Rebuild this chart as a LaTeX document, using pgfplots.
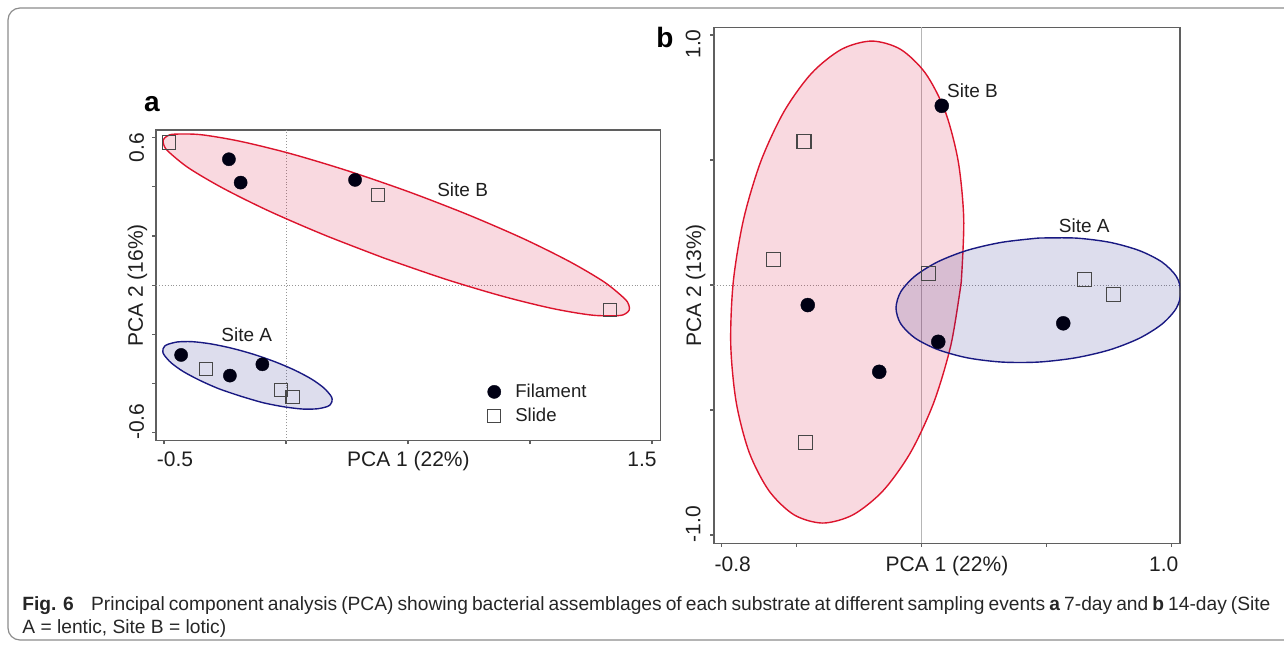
\documentclass[border=0pt]{standalone}
\usepackage{fontspec}
\setmainfont{Liberation Sans}
\usepackage{pgfplots}
\pgfplotsset{compat=1.18}

\definecolor{siteBline}{RGB}{220,20,45}
\definecolor{siteBfill}{RGB}{220,20,60}
\definecolor{siteAline}{RGB}{25,25,130}
\definecolor{siteAfill}{RGB}{20,20,130}
\definecolor{axisgray}{RGB}{95,95,95}
\definecolor{zerogray}{RGB}{150,150,150}
\definecolor{framegray}{RGB}{140,140,140}

\tikzset{sitelabel/.style={font=\fontsize{9.5}{11}\selectfont, text=black!88, inner sep=0pt}}

\pgfplotsset{
  pcabox/.style={
    scale only axis,
    anchor=south west,
    axis line style={axisgray, line width=0.75pt},
    tick style={axisgray, line width=0.6pt},
    tick align=outside,
    tick pos=left,
    major tick length=1.8pt,
    every tick label/.append style={inner sep=0pt, font=\fontsize{10.5}{12}\selectfont, text=black!88},
    yticklabel style={rotate=90, anchor=south},
    every axis x label/.style={anchor=base, inner sep=0pt, font=\fontsize{10.5}{12}\selectfont, text=black!88},
    every axis y label/.style={rotate=90, anchor=base, inner sep=0pt, font=\fontsize{10.5}{12}\selectfont, text=black!88},
  },
  ellB/.style={draw=siteBline, line width=0.7pt, fill=siteBfill, fill opacity=0.16, smooth, forget plot},
  ellA/.style={draw=siteAline, line width=0.7pt, fill=siteAfill, fill opacity=0.145, smooth, forget plot},
  zeroline/.style={zerogray, line width=0.45pt, densely dotted, forget plot},
  filament/.style={only marks, mark=*, mark size=#1, mark options={fill=black!92!blue, draw=black!92!blue, line width=0.2pt}},
  slide/.style={only marks, mark=square, mark size=#1, mark options={draw=black!72, line width=0.55pt, fill=none}},
}

\begin{document}
\begin{tikzpicture}

% ---------------- panel a : 7-day ----------------
\begin{axis}[pcabox,
  at={(78pt,102.25pt)}, width=252.35pt, height=155.25pt,
  xmin=-0.533, xmax=1.536, ymin=-0.632, ymax=0.631,
  xtick={-0.5,0,0.5,1,1.5},
  xticklabels={\hspace*{11pt}-0.5,,,,1.5\hspace*{10pt}},
  ytick={-0.6,-0.4,-0.2,0,0.2,0.4,0.6},
  yticklabels={\hspace*{11pt}-0.6,,,,,,0.6\hspace*{10pt}},
  xticklabel shift=3.7pt, yticklabel shift=4pt,
  xlabel={PCA 1 (22\%)}, ylabel={PCA 2 (16\%)},
  xlabel style={at={(axis description cs:0.5,-0.0837)}},
  ylabel style={at={(axis description cs:-0.026,0.5)}},
  legend cell align=left,
  legend image code/.code={\draw[#1] plot coordinates {(0pt,0pt)};},
  legend style={draw=none, fill=none, at={(axis cs:0.825,-0.399)}, anchor=north west,
    inner sep=0pt, row sep=3.8pt, column sep=7.2pt,
    font=\fontsize{9.3}{11}\selectfont, nodes={inner sep=0pt, text=black!88}},
]
\addplot[zeroline] coordinates {(0,-0.632) (0,0.631)};
\addplot[zeroline] coordinates {(-0.533,0) (1.536,0)};

% Site B ellipse
\addplot[ellB] coordinates {
 (0.402,0.110) (0.157,0.204) (-0.069,0.301) (-0.258,0.394) (-0.400,0.477)
 (-0.483,0.544) (-0.501,0.570) (-0.503,0.591) (-0.488,0.606) (-0.458,0.614)
 (-0.350,0.612) (-0.188,0.585) (0.018,0.535) (0.253,0.465) (0.502,0.380)
 (0.747,0.286) (0.973,0.189) (1.162,0.096) (1.304,0.013) (1.387,-0.054)
 (1.405,-0.080) (1.407,-0.101) (1.392,-0.116) (1.362,-0.124) (1.254,-0.122)
 (1.092,-0.095) (0.887,-0.045) (0.651,0.025) (0.402,0.110)
};
% Site A ellipse
\addplot[ellA] coordinates {
 (-0.185,-0.452) (-0.274,-0.422) (-0.354,-0.387) (-0.422,-0.351) (-0.471,-0.316)
 (-0.499,-0.285) (-0.505,-0.271) (-0.504,-0.259) (-0.498,-0.249) (-0.485,-0.241)
 (-0.444,-0.231) (-0.384,-0.230) (-0.308,-0.239) (-0.221,-0.257) (-0.131,-0.282)
 (-0.042,-0.313) (0.038,-0.347) (0.106,-0.383) (0.155,-0.418) (0.183,-0.449)
 (0.189,-0.463) (0.188,-0.475) (0.182,-0.485) (0.169,-0.494) (0.128,-0.503)
 (0.068,-0.504) (-0.008,-0.495) (-0.095,-0.478) (-0.185,-0.452)
};

\addplot[filament=3.3pt] coordinates {
 (-0.234,0.512) (-0.186,0.417) (0.283,0.428)
 (-0.430,-0.284) (-0.230,-0.368) (-0.097,-0.322)
};
\addlegendentry{Filament}
\addplot[slide=3.3pt] coordinates {
 (-0.480,0.580) (0.378,0.367) (1.328,-0.101)
 (-0.328,-0.342) (-0.020,-0.426) (0.027,-0.456)
};
\addlegendentry{Slide}

\node[sitelabel] at (axis cs:0.724,0.387) {Site B};
\node[sitelabel] at (axis cs:-0.161,-0.203) {Site A};
\end{axis}

% ---------------- panel b : 14-day ----------------
\begin{axis}[pcabox,
  at={(357pt,50.85pt)}, width=233pt, height=258pt,
  xmin=-0.831, xmax=1.033, ymin=-1.033, ymax=1.031,
  xtick={-0.8,-0.5,0,0.5,1},
  xticklabels={\hspace*{11pt}-0.8,,,,1.0\hspace*{8pt}},
  ytick={-1,-0.5,0,0.5,1},
  yticklabels={\hspace*{11pt}-1.0,,,,1.0\hspace*{9pt}},
  xticklabel shift=4.9pt, yticklabel shift=4.7pt,
  xlabel={PCA 1 (22\%)}, ylabel={PCA 2 (13\%)},
  xlabel style={at={(axis description cs:0.5,-0.055)}},
  ylabel style={at={(axis description cs:-0.0279,0.5)}},
]
\addplot[zerogray!70, line width=0.45pt, forget plot] coordinates {(0,-1.033) (0,1.031)};
\addplot[zeroline] coordinates {(-0.831,0) (1.033,0)};

% Site B ellipse
\addplot[ellB] coordinates {
 (0.158,0.012) (0.117,-0.238) (0.048,-0.470) (-0.045,-0.670) (-0.155,-0.823)
 (-0.275,-0.919) (-0.396,-0.952) (-0.511,-0.919) (-0.611,-0.823) (-0.690,-0.670)
 (-0.742,-0.470) (-0.764,-0.238) (-0.754,0.012) (-0.713,0.262) (-0.644,0.494)
 (-0.551,0.694) (-0.441,0.847) (-0.321,0.943) (-0.200,0.976) (-0.085,0.943)
 (0.015,0.847) (0.094,0.694) (0.146,0.494) (0.168,0.262) (0.158,0.012)
};
% Site A ellipse
\addplot[ellA] coordinates {
 (0.467,0.188) (0.320,0.171) (0.182,0.139) (0.064,0.093) (-0.027,0.036)
 (-0.084,-0.027) (-0.103,-0.092) (-0.084,-0.155) (-0.027,-0.212) (0.064,-0.258)
 (0.182,-0.291) (0.320,-0.308) (0.467,-0.308) (0.615,-0.291) (0.752,-0.259)
 (0.870,-0.213) (0.961,-0.156) (1.018,-0.093) (1.037,-0.028) (1.018,0.035)
 (0.961,0.092) (0.870,0.138) (0.752,0.171) (0.615,0.188) (0.467,0.188)
};

\addplot[filament=3.5pt] coordinates {
 (0.080,0.717) (-0.456,-0.080) (0.066,-0.227) (-0.170,-0.347) (0.566,-0.153)
};
\addplot[slide=3.5pt] coordinates {
 (-0.471,0.576) (-0.594,0.104) (0.026,0.047) (-0.464,-0.631) (0.650,0.024) (0.766,-0.037)
};

\node[sitelabel, anchor=west] at (axis cs:0.100,0.776) {Site B};
\node[sitelabel] at (axis cs:0.650,0.236) {Site A};
\end{axis}

% panel letters
\node[font=\bfseries\fontsize{14}{16}\selectfont, inner sep=0pt] at (76pt,270.5pt) {a};
\node[font=\bfseries\fontsize{14}{16}\selectfont, inner sep=0pt] at (332.5pt,304pt) {b};

% caption
\node[anchor=base west, inner sep=0pt, text=black!85, font=\fontsize{9.6}{11.5}\selectfont] at (11pt,17.5pt)
 {\makebox[624pt][s]{\textbf{Fig. 6}\hspace{0.9em}Principal component analysis (PCA) showing bacterial assemblages of each substrate at different sampling events \textbf{a} 7-day and \textbf{b} 14-day (Site}};
\node[anchor=base west, inner sep=0pt, text=black!85, font=\fontsize{9.6}{11.5}\selectfont] at (11pt,6pt)
 {A = lentic, Site B = lotic)};

% frame
\draw[framegray, line width=0.6pt, rounded corners=6pt] (4pt,2.5pt) rectangle (660pt,318.5pt);

\pgfresetboundingbox
\path[use as bounding box] (0,0) rectangle (642pt,322.5pt);
\end{tikzpicture}
\end{document}
